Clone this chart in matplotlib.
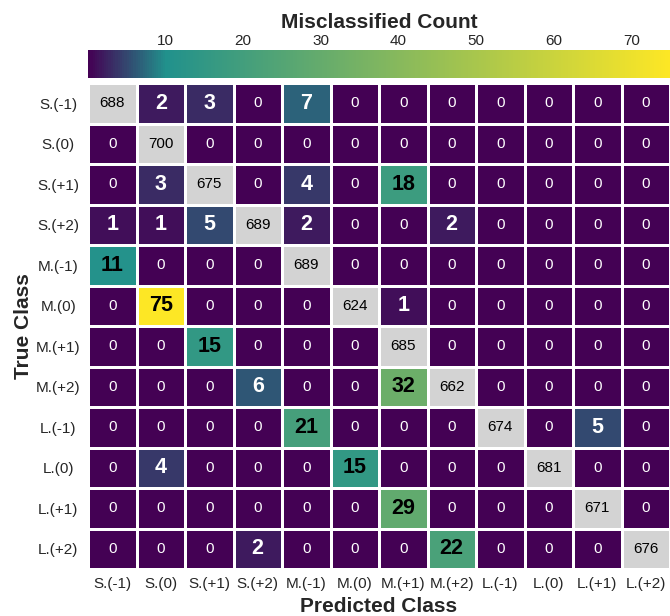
import numpy as np
import matplotlib
matplotlib.use("Agg")
import matplotlib.pyplot as plt
from matplotlib.colors import LinearSegmentedColormap, Normalize
from matplotlib.cm import ScalarMappable

plt.rcParams['font.family'] = ['Liberation Sans', 'DejaVu Sans']

labels = ["S.(-1)", "S.(0)", "S.(+1)", "S.(+2)", "M.(-1)", "M.(0)", "M.(+1)",
          "M.(+2)", "L.(-1)", "L.(0)", "L.(+1)", "L.(+2)"]
cm = np.array([
    [688, 2, 3, 0, 7, 0, 0, 0, 0, 0, 0, 0],
    [0, 700, 0, 0, 0, 0, 0, 0, 0, 0, 0, 0],
    [0, 3, 675, 0, 4, 0, 18, 0, 0, 0, 0, 0],
    [1, 1, 5, 689, 2, 0, 0, 2, 0, 0, 0, 0],
    [11, 0, 0, 0, 689, 0, 0, 0, 0, 0, 0, 0],
    [0, 75, 0, 0, 0, 624, 1, 0, 0, 0, 0, 0],
    [0, 0, 15, 0, 0, 0, 685, 0, 0, 0, 0, 0],
    [0, 0, 0, 6, 0, 0, 32, 662, 0, 0, 0, 0],
    [0, 0, 0, 0, 21, 0, 0, 0, 674, 0, 5, 0],
    [0, 4, 0, 0, 0, 15, 0, 0, 0, 681, 0, 0],
    [0, 0, 0, 0, 0, 0, 29, 0, 0, 0, 671, 0],
    [0, 0, 0, 2, 0, 0, 0, 22, 0, 0, 0, 676],
])
cbar_ticks = [10, 20, 30, 40, 50, 60, 70]

n = len(labels)
vmax = 75
cmap = LinearSegmentedColormap.from_list(
    "mc", [(0.0, "#440154"), (10 / vmax, "#21918c"), (1.0, "#fde725")])
norm = Normalize(vmin=0, vmax=vmax)

W, H = 670, 616
fig = plt.figure(figsize=(W / 100, H / 100), dpi=100)
ax = fig.add_axes([88 / W, (H - 569) / H, 582 / W, 486 / H])

off = np.ma.masked_array(cm.astype(float), mask=np.eye(n, dtype=bool))
diag = np.ma.masked_array(np.ones((n, n)), mask=~np.eye(n, dtype=bool))
ax.pcolormesh(off, cmap=cmap, norm=norm, edgecolors="white", linewidth=2)
ax.pcolormesh(diag, cmap=LinearSegmentedColormap.from_list("g", ["#d3d3d3", "#d3d3d3"]),
              edgecolors="white", linewidth=2)
ax.set_xlim(0, n)
ax.set_ylim(n, 0)

for i in range(n):
    for j in range(n):
        v = cm[i, j]
        if i == j:
            ax.text(j + 0.5, i + 0.5, str(v), ha="center", va="center",
                    fontsize=11, color="black")
        elif v == 0:
            ax.text(j + 0.5, i + 0.5, "0", ha="center", va="center",
                    fontsize=11, color="white")
        else:
            col = "black" if v >= 10 else "white"
            ax.text(j + 0.5, i + 0.5, str(v), ha="center", va="center",
                    fontsize=15.5, fontweight="bold", color=col)

ax.set_xticks(np.arange(n) + 0.5)
ax.set_yticks(np.arange(n) + 0.5)
ax.set_xticklabels(labels, fontsize=11, color="#262626")
ax.set_yticklabels(labels, fontsize=11, color="#262626", ha="center")
ax.tick_params(axis="x", length=0, pad=6)
ax.tick_params(axis="y", length=0, pad=21.5)
for s in ax.spines.values():
    s.set_visible(False)
ax.set_xlabel("Predicted Class", fontsize=15, fontweight="bold", color="#262626", labelpad=4)
ax.set_ylabel("True Class", fontsize=15, fontweight="bold", color="#262626", labelpad=2)

cax = fig.add_axes([88 / W, (H - 78) / H, 582 / W, 28 / H])
sm = ScalarMappable(norm=norm, cmap=cmap)
cb = fig.colorbar(sm, cax=cax, orientation="horizontal", ticks=cbar_ticks)
cb.outline.set_visible(False)
cax.xaxis.set_ticks_position("top")
cax.xaxis.set_label_position("top")
cax.tick_params(length=0, labelsize=11, labelcolor="#262626", pad=1.5)
cb.set_label("Misclassified Count", fontsize=15, fontweight="bold", color="#262626", labelpad=4)

fig.savefig("out.png", dpi=100)
